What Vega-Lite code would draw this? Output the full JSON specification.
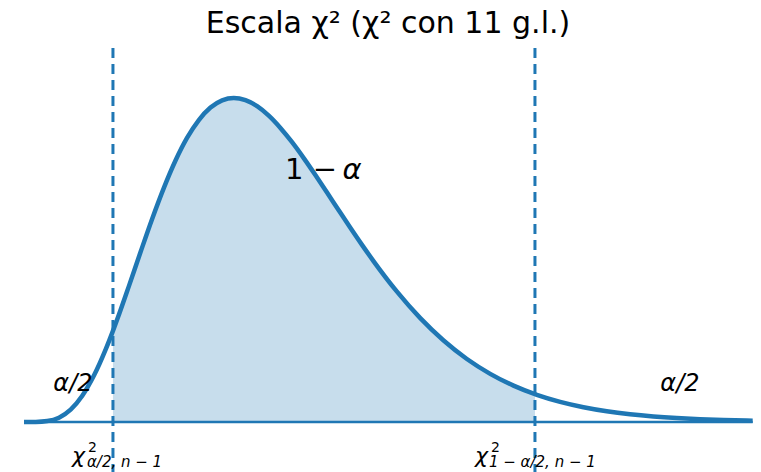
{
  "$schema": "https://vega.github.io/schema/vega-lite/v6.json",
  "width": 761,
  "height": 424,
  "autosize": {"type": "none"},
  "padding": {"left": 0, "top": 48, "right": 0, "bottom": 0},
  "background": "white",
  "config": {"view": {"stroke": null}, "font": "DejaVu Sans"},
  "datasets": {
    "pdf": [
      {"x": 0, "y": 0}, {"x": 0.5, "y": 0.0000145}, {"x": 1, "y": 0.000256}, {"x": 1.5, "y": 0.001236},
      {"x": 2, "y": 0.003515}, {"x": 2.5, "y": 0.00747}, {"x": 3, "y": 0.013217}, {"x": 3.5, "y": 0.0206},
      {"x": 3.816, "y": 0.02595}, {"x": 4, "y": 0.02925}, {"x": 4.5, "y": 0.03871}, {"x": 5, "y": 0.04843},
      {"x": 5.5, "y": 0.05792}, {"x": 6, "y": 0.06672}, {"x": 6.5, "y": 0.0745}, {"x": 7, "y": 0.08099},
      {"x": 7.5, "y": 0.08603}, {"x": 8, "y": 0.08958}, {"x": 8.5, "y": 0.09165}, {"x": 9, "y": 0.09231},
      {"x": 9.5, "y": 0.09168}, {"x": 10, "y": 0.08996}, {"x": 10.5, "y": 0.08726}, {"x": 11, "y": 0.08377},
      {"x": 11.5, "y": 0.0797}, {"x": 12, "y": 0.07517}, {"x": 12.5, "y": 0.07035}, {"x": 13, "y": 0.06537},
      {"x": 13.5, "y": 0.06033}, {"x": 14, "y": 0.05534}, {"x": 14.5, "y": 0.05047}, {"x": 15, "y": 0.04578},
      {"x": 16, "y": 0.03713}, {"x": 17, "y": 0.02958}, {"x": 18, "y": 0.02321}, {"x": 19, "y": 0.01795},
      {"x": 20, "y": 0.01372}, {"x": 21, "y": 0.01036}, {"x": 21.92, "y": 0.007933}, {"x": 22, "y": 0.007748},
      {"x": 23, "y": 0.005739}, {"x": 24, "y": 0.004216}, {"x": 25, "y": 0.003072}, {"x": 26, "y": 0.002223},
      {"x": 27, "y": 0.001598}, {"x": 28, "y": 0.001142}, {"x": 29, "y": 0.000811}, {"x": 30, "y": 0.000573},
      {"x": 31, "y": 0.000403}, {"x": 31.26, "y": 0.00037}
    ],
    "crit": [{"q": 3.816}, {"q": 21.92}],
    "base": [{"x": 0, "x2": 31.26, "y": 0}],
    "heading": [{"x": 15.615, "y": 0.11083, "label": "Escala χ² (χ² con 11 g.l.)"}],
    "tails": [{"x": 2.1, "y": 0.00892, "label": "α/2"}, {"x": 28.14, "y": 0.00892, "label": "α/2"}],
    "center": [{"x": 12.89, "y": 0.06923, "one": "1 −", "alpha": "α"}]
  },
  "encoding": {},
  "layer": [
    {
      "data": {"name": "pdf"},
      "transform": [{"filter": {"field": "x", "range": [3.816, 21.92]}}],
      "mark": {"type": "area", "interpolate": "monotone", "color": "#1f77b4", "opacity": 0.25},
      "encoding": {
        "x": {"field": "x", "type": "quantitative", "scale": {"domain": [-1.03, 31.617], "nice": false, "zero": false}, "axis": null},
        "y": {"field": "y", "type": "quantitative", "scale": {"domain": [-0.014245, 0.10655], "nice": false, "zero": false}, "axis": null},
        "y2": {"datum": 0}
      }
    },
    {
      "data": {"name": "base"},
      "mark": {"type": "rule", "color": "#1f77b4", "strokeWidth": 2.5},
      "encoding": {
        "x": {"field": "x", "type": "quantitative"},
        "x2": {"field": "x2"},
        "y": {"field": "y", "type": "quantitative"}
      }
    },
    {
      "data": {"name": "pdf"},
      "mark": {"type": "line", "interpolate": "monotone", "color": "#1f77b4", "strokeWidth": 4.5},
      "encoding": {
        "x": {"field": "x", "type": "quantitative"},
        "y": {"field": "y", "type": "quantitative"}
      }
    },
    {
      "data": {"name": "crit"},
      "mark": {"type": "rule", "color": "#1f77b4", "strokeWidth": 3, "strokeDash": [10, 6]},
      "encoding": {"x": {"field": "q", "type": "quantitative"}}
    },
    {
      "data": {"name": "heading"},
      "mark": {"type": "text", "fontSize": 30, "font": "DejaVu Sans", "color": "black", "align": "center", "baseline": "alphabetic"},
      "encoding": {
        "x": {"field": "x", "type": "quantitative"},
        "y": {"field": "y", "type": "quantitative"},
        "text": {"field": "label"}
      }
    },
    {
      "data": {"name": "tails"},
      "mark": {"type": "text", "fontSize": 24, "font": "DejaVu Sans", "fontStyle": "italic", "color": "black", "align": "center", "baseline": "alphabetic"},
      "encoding": {
        "x": {"field": "x", "type": "quantitative"},
        "y": {"field": "y", "type": "quantitative"},
        "text": {"field": "label"}
      }
    },
    {
      "data": {"name": "center"},
      "mark": {"type": "text", "fontSize": 29, "font": "DejaVu Sans", "color": "black", "align": "right", "baseline": "alphabetic", "dx": 12.5},
      "encoding": {
        "x": {"field": "x", "type": "quantitative"},
        "y": {"field": "y", "type": "quantitative"},
        "text": {"field": "one"}
      }
    },
    {
      "data": {"name": "center"},
      "mark": {"type": "text", "fontSize": 29, "font": "DejaVu Sans", "fontStyle": "italic", "color": "black", "align": "left", "baseline": "alphabetic", "dx": 18},
      "encoding": {
        "x": {"field": "x", "type": "quantitative"},
        "y": {"field": "y", "type": "quantitative"},
        "text": {"field": "alpha"}
      }
    },
    {
      "data": {"values": [{"x": 3.816, "y": -0.01168, "label": "χ"}]},
      "mark": {"type": "text", "fontSize": 22, "font": "DejaVu Sans", "fontStyle": "italic", "color": "black", "align": "left", "baseline": "alphabetic", "dx": -41},
      "encoding": {"x": {"field": "x", "type": "quantitative"}, "y": {"field": "y", "type": "quantitative"}, "text": {"field": "label"}}
    },
    {
      "data": {"values": [{"x": 3.816, "y": -0.01168, "label": "2"}]},
      "mark": {"type": "text", "fontSize": 14, "font": "DejaVu Sans", "color": "black", "align": "left", "baseline": "alphabetic", "dx": -25, "dy": -11},
      "encoding": {"x": {"field": "x", "type": "quantitative"}, "y": {"field": "y", "type": "quantitative"}, "text": {"field": "label"}}
    },
    {
      "data": {"values": [{"x": 3.816, "y": -0.01168, "label": "α/2, n − 1"}]},
      "mark": {"type": "text", "fontSize": 15, "font": "DejaVu Sans", "fontStyle": "italic", "color": "black", "align": "left", "baseline": "alphabetic", "dx": -26, "dy": 4},
      "encoding": {"x": {"field": "x", "type": "quantitative"}, "y": {"field": "y", "type": "quantitative"}, "text": {"field": "label"}}
    },
    {
      "data": {"values": [{"x": 21.92, "y": -0.01168, "label": "χ"}]},
      "mark": {"type": "text", "fontSize": 22, "font": "DejaVu Sans", "fontStyle": "italic", "color": "black", "align": "left", "baseline": "alphabetic", "dx": -60},
      "encoding": {"x": {"field": "x", "type": "quantitative"}, "y": {"field": "y", "type": "quantitative"}, "text": {"field": "label"}}
    },
    {
      "data": {"values": [{"x": 21.92, "y": -0.01168, "label": "2"}]},
      "mark": {"type": "text", "fontSize": 14, "font": "DejaVu Sans", "color": "black", "align": "left", "baseline": "alphabetic", "dx": -44, "dy": -11},
      "encoding": {"x": {"field": "x", "type": "quantitative"}, "y": {"field": "y", "type": "quantitative"}, "text": {"field": "label"}}
    },
    {
      "data": {"values": [{"x": 21.92, "y": -0.01168, "label": "1 − α/2, n − 1"}]},
      "mark": {"type": "text", "fontSize": 15, "font": "DejaVu Sans", "fontStyle": "italic", "color": "black", "align": "left", "baseline": "alphabetic", "dx": -46, "dy": 4},
      "encoding": {"x": {"field": "x", "type": "quantitative"}, "y": {"field": "y", "type": "quantitative"}, "text": {"field": "label"}}
    }
  ]
}
